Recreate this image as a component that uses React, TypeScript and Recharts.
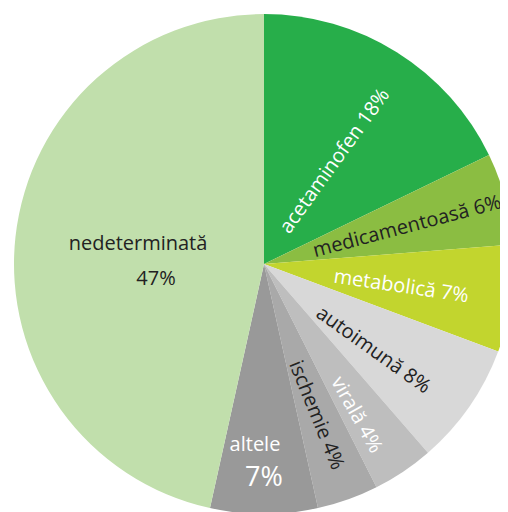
import { PieChart, Pie, Cell } from "recharts";

const NAMES = [
  "acetaminofen",
  "medicamentoasă",
  "metabolică",
  "autoimună",
  "virală",
  "ischemie",
  "altele",
  "nedeterminată",
];
const VALUES = [18, 6, 7, 8, 4, 4, 7, 47];

const COLORS = [
  "#27ae4a",
  "#8bbd42",
  "#c2d52e",
  "#d8d8d8",
  "#bebebe",
  "#a9a9a9",
  "#999999",
  "#c1dfac",
];
const TEXT_COLORS = ["#fff", "#222", "#fff", "#222", "#fff", "#222", "#fff", "#222"];

// label placement per slice: angle offset from mid, radius fraction, extra rotation
// stacked labels are horizontal with the percentage on a second line
const LAYOUT = [
  { da: -1.8, r: 0.5, rot: 3.7 },
  { da: 0, r: 0.592, rot: 0.4 },
  { da: -0.7, r: 0.556, rot: 0.4 },
  { da: -2.9, r: 0.556, rot: 0.7 },
  { da: -1.9, r: 0.708, rot: 4.6 },
  { da: 0, r: 0.64, rot: -2.6 },
  { da: 0, r: 0.716, stack: { dx1: -9, dx2: 0, dy2: 32, size2: 27 } },
  { da: -3.3, r: 0.511, stack: { dx1: 0, dx2: 18, dy2: 35, size2: 20 } },
];

const data = NAMES.map((name, i) => ({ name, value: VALUES[i] }));

const RAD = Math.PI / 180;
const FONT = "'Open Sans', 'Noto Sans', sans-serif";
const FS = 20;

const renderLabel = (props: any) => {
  const { cx, cy, midAngle, outerRadius, index, name, value } = props;
  const lay = LAYOUT[index];
  const a = midAngle + lay.da;
  const r = outerRadius * lay.r;
  const x = cx + r * Math.cos(-a * RAD);
  const y = cy + r * Math.sin(-a * RAD);
  const fill = TEXT_COLORS[index];

  if (lay.stack) {
    const s = lay.stack;
    return (
      <g>
        <text
          x={x + s.dx1}
          y={y}
          fill={fill}
          fontSize={FS}
          fontFamily={FONT}
          textAnchor="middle"
          dominantBaseline="central"
        >
          {name}
        </text>
        <text
          x={x + s.dx2}
          y={y + s.dy2}
          fill={fill}
          fontSize={s.size2}
          fontFamily={FONT}
          textAnchor="middle"
          dominantBaseline="central"
        >
          {`${value}%`}
        </text>
      </g>
    );
  }

  const rot = -midAngle + (lay.rot || 0);
  return (
    <text
      x={x}
      y={y}
      fill={fill}
      fontSize={FS}
      fontFamily={FONT}
      textAnchor="middle"
      dominantBaseline="central"
      transform={`rotate(${rot} ${x} ${y})`}
    >
      {`${name} ${value}%`}
    </text>
  );
};

export default function App() {
  return (
    <PieChart
      width={500}
      height={504}
      margin={{ top: 0, right: 0, bottom: 0, left: 0 }}
    >
      <Pie
        data={data}
        dataKey="value"
        nameKey="name"
        cx={256}
        cy={256}
        outerRadius={250}
        startAngle={90}
        endAngle={-270}
        stroke="none"
        label={renderLabel}
        labelLine={false}
        isAnimationActive={false}
      >
        {data.map((d, i) => (
          <Cell key={d.name} fill={COLORS[i]} />
        ))}
      </Pie>
    </PieChart>
  );
}
